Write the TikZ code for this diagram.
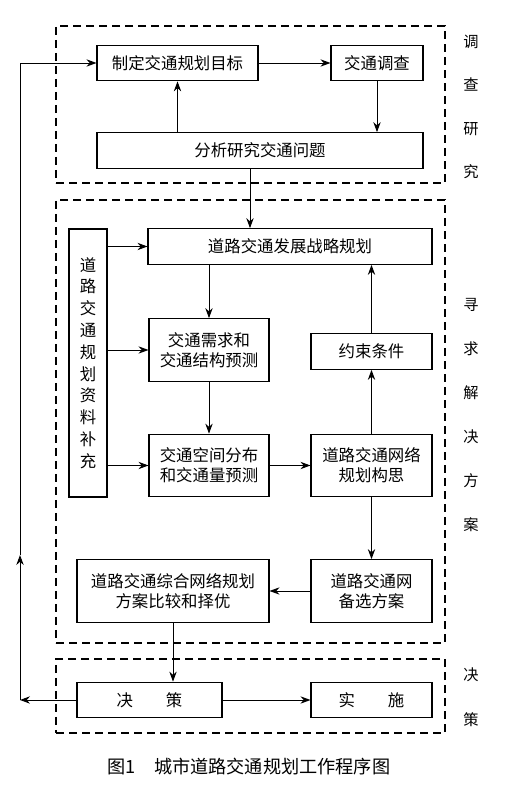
\documentclass[tikz,border=0pt]{standalone}
\usepackage{fontspec}
\setmainfont{Noto Sans CJK SC}
\usetikzlibrary{arrows.meta,positioning,calc}
\tikzset{
  base/.style={font=\fontsize{14}{17}\selectfont, align=center, inner sep=0pt, text=black},
  box/.style={base, rectangle, draw=black, fill=white, line width=0.9pt, minimum height=1.07cm},
  tall/.style={box, minimum height=1.88cm},
  frame/.style={rectangle, draw=black, line width=0.9pt, dash pattern=on 2.4mm off 1.5mm, minimum width=11.67cm},
  side/.style={base, font=\fontsize{13}{37}\selectfont},
  arr/.style={-{Stealth[length=3mm,width=2.2mm]}, line width=0.8pt, draw=black},
  caption/.style={base, font=\fontsize{15.5}{18}\selectfont},
}
\begin{document}
\begin{tikzpicture}
  \useasboundingbox (0,0) rectangle (15.48,23.76);
  % dashed stages
  \node[frame,minimum height=4.71cm] (st1) at (7.515,20.625) {};
  \node[frame,minimum height=13.29cm] (st2) at (7.515,11.115) {};
  \node[frame,minimum height=2.22cm] (st3) at (7.515,2.88) {};
  \node[side] (lb1) at (14.13,20.55) {调\\查\\研\\究};
  \node[side,font=\fontsize{13}{37.5}\selectfont] (lb2) at (14.13,11.30) {寻\\求\\解\\决\\方\\案};
  \node[side,font=\fontsize{13}{38.3}\selectfont] (lb3) at (14.13,2.84) {决\\策};
  % investigation
  \node[box,minimum width=4.83cm] (zhiding) at (5.325,21.87) {制定交通规划目标};
  \node[box,minimum width=2.76cm] (diaocha) at (11.31,21.87) {交通调查};
  \node[box,minimum width=9.78cm] (fenxi) at (7.80,19.245) {分析研究交通问题};
  % solutions
  \node[box,minimum width=8.52cm] (zhanlue) at (8.70,16.365) {道路交通发展战略规划};
  \node[box,minimum width=1.14cm,minimum height=8.04cm,font=\fontsize{14}{18.6}\selectfont] (ziliao) at (2.64,12.87) {道\\路\\交\\通\\规\\划\\资\\料\\补\\充};
  \node[tall,minimum width=3.6cm] (xuqiu) at (6.27,13.26) {交通需求和\\交通结构预测};
  \node[box,minimum width=3.63cm] (yueshu) at (11.145,13.215) {约束条件};
  \node[tall,minimum width=3.6cm] (kongjian) at (6.27,9.795) {交通空间分布\\和交通量预测};
  \node[tall,minimum width=3.63cm] (gousi) at (11.145,9.795) {道路交通网络\\规划构思};
  \node[tall,minimum width=3.63cm] (beixuan) at (11.145,6.03) {道路交通网\\备选方案};
  \node[tall,minimum width=5.76cm] (bijiao) at (5.19,6.03) {道路交通综合网络规划\\方案比较和择优};
  % decision
  \node[box,minimum width=4.35cm] (juece) at (4.485,2.76) {决\hspace{2em}策};
  \node[box,minimum width=3.63cm] (shishi) at (11.145,2.76) {实\hspace{2em}施};
  \node[caption] (title) at (7.47,0.75) {图1\hspace{1em}城市道路交通规划工作程序图};
  % connectors
  \draw[arr] (zhiding) -- (diaocha);
  \draw[arr] (fenxi.north -| zhiding) -- (zhiding.south);
  \draw[arr] (diaocha.south) -- (diaocha.south |- fenxi.north);
  \draw[arr] ([xshift=-3mm]fenxi.south) -- ([xshift=-3mm]fenxi.south |- zhanlue.north);
  \foreach \b in {zhanlue,xuqiu,kongjian}{\draw[arr] (ziliao.east |- \b) -- (\b.west);}
  \draw[arr] (zhanlue.south -| xuqiu) -- (xuqiu.north);
  \draw[arr] (xuqiu) -- (kongjian);
  \draw[arr] (kongjian) -- (gousi);
  \draw[arr] (gousi) -- (yueshu);
  \draw[arr] (yueshu.north) -- (zhanlue.south -| yueshu);
  \draw[arr] (gousi) -- (beixuan);
  \draw[arr] (beixuan) -- (bijiao);
  \draw[arr] (bijiao.south) -- (bijiao.south |- juece.north);
  \draw[arr] (juece) -- (shishi);
  \coordinate (lpb) at (0.6,2.76);
  \coordinate (lpm) at (0.6,7.11);
  \draw[arr] (juece.west) -- (lpb);
  \draw[arr] (lpb) -- (lpm);
  \draw[arr] (lpm) |- (zhiding.west);
\end{tikzpicture}
\end{document}
